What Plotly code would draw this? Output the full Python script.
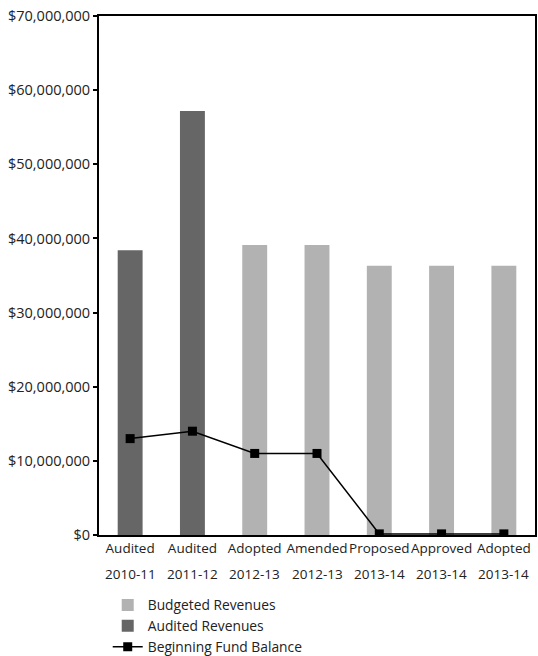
import plotly.graph_objects as go

statuses = ["Audited", "Audited", "Adopted", "Amended", "Proposed", "Approved", "Adopted"]
years = ["2010-11", "2011-12", "2012-13", "2012-13", "2013-14", "2013-14", "2013-14"]
budgeted_revenues = [None, None, 39100000, 39100000, 36300000, 36300000, 36300000]
audited_revenues = [38400000, 57200000, None, None, None, None, None]
beginning_fund_balance = [13000000, 14000000, 11000000, 11000000, 150000, 150000, 150000]

categories = [f"{s} {y}" for s, y in zip(statuses, years)]
font_family = "Open Sans, DejaVu Sans, sans-serif"

fig = go.Figure()
fig.add_trace(go.Bar(x=categories, y=budgeted_revenues, name="Budgeted Revenues",
                     marker=dict(color="#b2b2b2", line=dict(width=0))))
fig.add_trace(go.Bar(x=categories, y=audited_revenues, name="Audited Revenues",
                     marker=dict(color="#666666", line=dict(width=0))))
fig.add_trace(go.Scatter(x=categories, y=beginning_fund_balance, name="Beginning Fund Balance",
                         mode="lines+markers",
                         line=dict(color="black", width=1.5),
                         marker=dict(symbol="square", size=9, color="black")))

# second row of category labels (fiscal year) under the status labels
for cat, yr in zip(categories, years):
    fig.add_annotation(x=cat, xref="x", y=-0.0755, yref="paper", yanchor="middle",
                       text=yr, showarrow=False, font=dict(size=13.5))

fig.update_layout(
    width=538, height=656,
    margin=dict(l=99, r=3, t=16, b=121),
    paper_bgcolor="white", plot_bgcolor="white",
    barmode="overlay", bargap=0.6,
    font=dict(family=font_family, size=14, color="#222222"),
    showlegend=True,
    legend=dict(orientation="v", x=0.02, xanchor="left",
                yref="container", y=0.1015, yanchor="top",
                font=dict(size=13.8), tracegroupgap=0, itemwidth=30,
                bgcolor="rgba(0,0,0,0)"),
    xaxis=dict(showline=True, linecolor="black", linewidth=2, mirror=True,
               ticks="", showgrid=False, tickangle=0, automargin=False,
               tickmode="array", tickvals=categories, ticktext=statuses,
               tickfont=dict(size=13.5)),
    yaxis=dict(range=[0, 70000000], dtick=10000000, tickformat="$,.0f",
               showline=True, linecolor="black", linewidth=2, mirror=True,
               ticks="outside", ticklen=4, tickwidth=1.5, tickcolor="black",
               showgrid=False, zeroline=False, automargin=False,
               tickfont=dict(size=14.5)),
)

fig.write_html("out.html")
